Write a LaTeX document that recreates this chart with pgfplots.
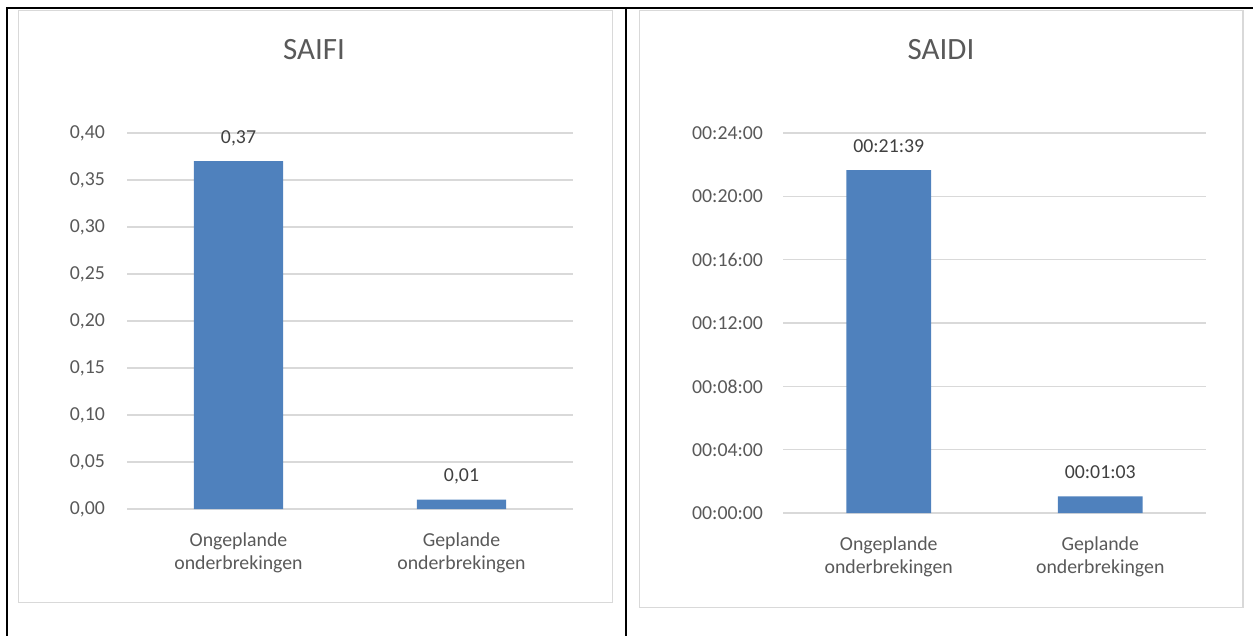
\documentclass[border=0pt]{standalone}
\usepackage{pgfplots}
\pgfplotsset{compat=1.18}
\usepackage{fontspec}
\setmainfont{Carlito}
\definecolor{barblue}{HTML}{4F81BD}
\definecolor{gridgray}{HTML}{D9D9D9}
\definecolor{ticktext}{HTML}{595959}
\definecolor{labeltext}{HTML}{404040}
\begin{document}
\begin{tikzpicture}
\path[use as bounding box] (0pt,0pt) rectangle (626.5pt,-318pt);
% table frame
\draw[black, line width=0.9pt] (3pt,-4pt) -- (626.5pt,-4pt);
\draw[black, line width=1pt] (3.5pt,-4pt) -- (3.5pt,-318pt);
\draw[black, line width=1pt] (313pt,-4pt) -- (313pt,-318pt);
% chart boxes
\draw[gridgray, line width=0.75pt] (9.2pt,-5.2pt) rectangle (306.3pt,-301.3pt);
\draw[gridgray, line width=0.75pt] (319.7pt,-5.2pt) rectangle (621.6pt,-303.8pt);
% titles
\node[anchor=base, text=ticktext, font=\fontsize{15.5}{18}\selectfont, inner sep=0pt] at (157pt,-30pt) {SAIFI};
\node[anchor=base, text=ticktext, font=\fontsize{15.5}{18}\selectfont, inner sep=0pt] at (470.5pt,-30pt) {SAIDI};

\pgfplotsset{
  mybars/.style={
    scale only axis,
    anchor=south west,
    ybar, bar width=0.4,
    xmin=-0.5, xmax=1.5,
    xtick={0,1},
    xticklabels={{Ongeplande\\onderbrekingen},{Geplande\\onderbrekingen}},
    axis line style={draw=none},
    tick style={draw=none},
    ymajorgrids,
    major grid style={draw=gridgray, line width=0.75pt},
    ymin=0,
    tick label style={text=ticktext, font=\fontsize{9.9}{11.5}\selectfont},
    xticklabel style={align=center, yshift=-4pt},
    nodes near coords,
    every node near coord/.append style={anchor=base, yshift=9pt, text=labeltext, font=\fontsize{9.9}{11.5}\selectfont},
    clip=false,
  }
}

\begin{axis}[mybars,
  at={(63.5pt,-254.5pt)},
  width=223pt, height=188pt,
  ymax=0.4,
  ytick={0,0.05,0.1,0.15,0.2,0.25,0.3,0.35,0.4},
  yticklabels={{0,00},{0,05},{0,10},{0,15},{0,20},{0,25},{0,30},{0,35},{0,40}},
  yticklabel style={xshift=-7.5pt},
  point meta=explicit symbolic,
]
\addplot[fill=barblue, draw=none] coordinates {(0,0.37) [{0,37}] (1,0.01) [{0,01}]};
\end{axis}

\begin{axis}[mybars,
  at={(391.5pt,-256.5pt)},
  width=211.5pt, height=190pt,
  ymax=1440,
  ytick={0,240,480,720,960,1200,1440},
  yticklabels={00:00:00,00:04:00,00:08:00,00:12:00,00:16:00,00:20:00,00:24:00},
  yticklabel style={xshift=-6.5pt},
  point meta=explicit symbolic,
]
\addplot[fill=barblue, draw=none] coordinates {(0,1299) [00:21:39] (1,63) [00:01:03]};
\end{axis}
\end{tikzpicture}
\end{document}
